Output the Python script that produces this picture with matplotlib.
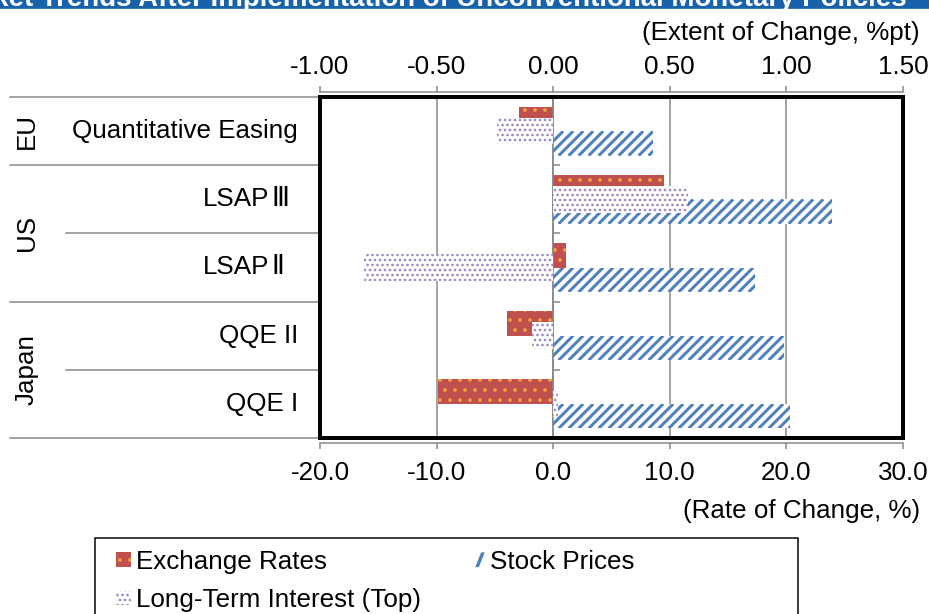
import numpy as np
import matplotlib.pyplot as plt
from matplotlib.patches import Rectangle, Polygon
from matplotlib.collections import LineCollection
from matplotlib.legend_handler import HandlerPatch
import matplotlib.transforms as mtransforms

plt.rcParams['font.family'] = ['Liberation Sans', 'DejaVu Sans', 'Noto Sans CJK JP']
plt.rcParams['axes.unicode_minus'] = False

# data (top row first)
groups = ['EU', 'US', 'Japan']
group_sizes = [1, 2, 2]
schemes = ['Quantitative Easing', 'LSAPⅢ', 'LSAPⅡ', 'QQE II', 'QQE I']
exchange = [-2.9, 9.5, 1.1, -4.0, -9.9]          # rate of change, %
stock = [8.6, 23.9, 17.3, 19.8, 20.3]            # rate of change, %
long_term = [-0.24, 0.58, -0.81, -0.09, 0.02]    # extent of change, %pt (top axis)

DPI = 120
W, H = 929, 614
GRAY = '#868686'
BLUE = '#4F81BD'
FS = 26 * 72 / DPI


def pt(v):
    # pixels -> points
    return v * 72 / DPI


fig = plt.figure(figsize=(W / DPI, H / DPI), dpi=DPI)
ax = fig.add_axes([320 / W, 1 - 438 / H, 583 / W, 341 / H])
ax2 = ax.twiny()

# title band, text cut off at the top edge
fig.add_artist(Rectangle((0, 1 - 8 / H), 1, 8 / H, transform=fig.transFigure,
                         color='#1862AB', zorder=0))
fig.text(907 / W, 1 - 6.5 / H,
         'Market Trends After Implementation of Unconventional Monetary Policies',
         color='white', fontweight='bold', fontsize=27.7 * 72 / DPI, ha='right', va='baseline')

y = np.arange(len(schemes))
hb = 0.36

b1 = ax.barh(y - hb / 2, exchange, height=hb, color='#C0504D', edgecolor='#F2A33A',
             hatch='..', lw=0, label='Exchange Rates')
b2 = ax.barh(y + hb / 2, stock, height=hb, color='white', lw=0, label='Stock Prices')
b3 = ax2.barh(y, long_term, height=0.39, color='white', edgecolor='#9D88C2',
              hatch='....', lw=0, label='Long-Term Interest (Top)')

ax.set_ylim(len(schemes) - 0.5, -0.5)
ax.set_xlim(-20, 30)
ax.set_xticks(np.arange(-20, 31, 10))
ax.set_xticklabels([f'{v:.1f}' for v in np.arange(-20, 31, 10)])
ax2.set_xlim(-1, 1.5)
ax2.set_xticks(np.arange(-1, 1.51, 0.5))
ax2.set_xticklabels([f'{v:.2f}' for v in np.arange(-1, 1.51, 0.5)])

# thick diagonal stripes inside the stock bars (10 px period)
for bar in b2:
    bb = bar.get_window_extent()
    hpx = bb.height
    segs = [[(c, bb.y0), (c + hpx, bb.y1)] for c in np.arange(bb.x0 - hpx, bb.x1 + 10, 10)]
    lc = LineCollection(segs, colors=BLUE, linewidths=pt(3.0),
                        transform=mtransforms.IdentityTransform(), zorder=1.1)
    ax.add_collection(lc, autolim=False)
    lc.set_clip_path(bar)

ax.xaxis.grid(True, color=GRAY, lw=pt(1.5))
ax.set_axisbelow(True)

ax.spines['top'].set_visible(False)
ax.spines['right'].set_visible(False)
ax.spines['left'].set_position(('data', 0))
ax.spines['bottom'].set_position(('outward', 3))
for s in ['left', 'bottom']:
    ax.spines[s].set_color(GRAY)
    ax.spines[s].set_linewidth(pt(1.5))
ax.yaxis.set_ticks_position('left')
ax.set_yticks(np.arange(-0.5, len(schemes), 1.0))
ax.set_yticklabels([])
ax.tick_params(axis='y', direction='in', length=pt(7), color=GRAY, width=pt(1.5))
ax.tick_params(axis='x', direction='out', length=pt(6), color=GRAY, width=pt(1.5),
               pad=pt(12), labelsize=FS)

for s in ['left', 'right', 'bottom']:
    ax2.spines[s].set_visible(False)
ax2.spines['top'].set_position(('outward', 3))
ax2.spines['top'].set_color(GRAY)
ax2.spines['top'].set_linewidth(pt(1.5))
ax2.tick_params(axis='x', direction='out', length=pt(6), color=GRAY, width=pt(1.5),
                pad=pt(7.5), labelsize=FS)

# black plot frame
ax2.add_patch(Rectangle((0, 0), 1, 1, transform=ax2.transAxes, fill=False,
                        ec='black', lw=pt(4), zorder=10, clip_on=False))

# multi-level category axis on the left
trans = ax.get_yaxis_transform()


def axx(xp):
    return (xp - 320) / 583


starts = np.cumsum([0] + group_sizes) - 0.5
for b in np.arange(-0.5, len(schemes), 1.0):
    x0 = 10 if b in starts else 66
    ax.plot([axx(x0), 0], [b, b], transform=trans, color=GRAY, lw=pt(1.5), clip_on=False)
for i, name in enumerate(schemes):
    if name.startswith('LSAP'):
        ax.text(axx(269), i, name[:4], transform=trans, ha='right', va='center', fontsize=FS)
        ax.text(axx(272), i, name[4:], transform=trans, ha='left', va='center', fontsize=FS)
    else:
        ax.text(axx(298), i, name, transform=trans, ha='right', va='center', fontsize=FS)
for g, s0, n in zip(groups, starts, group_sizes):
    ax.text(axx(27), s0 + n / 2, g, transform=trans, ha='center', va='center',
            rotation=90, fontsize=FS)

fig.text(920 / W, 1 - 33 / H, '(Extent of Change, %pt)', ha='right', va='center', fontsize=FS)
fig.text(920 / W, 1 - 511 / H, '(Rate of Change, %)', ha='right', va='center', fontsize=FS)


# legend: the stock swatch is a single slash like the source
def slash(legend, orig_handle, xdescent, ydescent, width, height, fontsize):
    x0, y0 = -xdescent, -ydescent
    return Polygon([(x0 + 0.35 * width, y0), (x0 + 0.6 * width, y0),
                    (x0 + width, y0 + height), (x0 + 0.75 * width, y0 + height)],
                   closed=True, facecolor=BLUE, lw=0)


fig.add_artist(Rectangle((95 / W, -0.1), 703 / W, 0.1 + (614 - 538) / H,
                         transform=fig.transFigure, fill=False, ec='black', lw=pt(1.5)))
stock_handle = Rectangle((0, 0), 1, 1, facecolor=BLUE, lw=0)
fig.legend([b1, b3, stock_handle],
           ['Exchange Rates', 'Long-Term Interest (Top)', 'Stock Prices'],
           handler_map={stock_handle: HandlerPatch(patch_func=slash)},
           loc='upper left', bbox_to_anchor=(116 / W, 1 - 550 / H), ncol=2,
           frameon=False, fontsize=FS, handlelength=0.56, handleheight=0.5,
           handletextpad=0.2, columnspacing=1.9, labelspacing=0.55,
           borderpad=0, borderaxespad=0)

fig.savefig('out.png', dpi=DPI)
